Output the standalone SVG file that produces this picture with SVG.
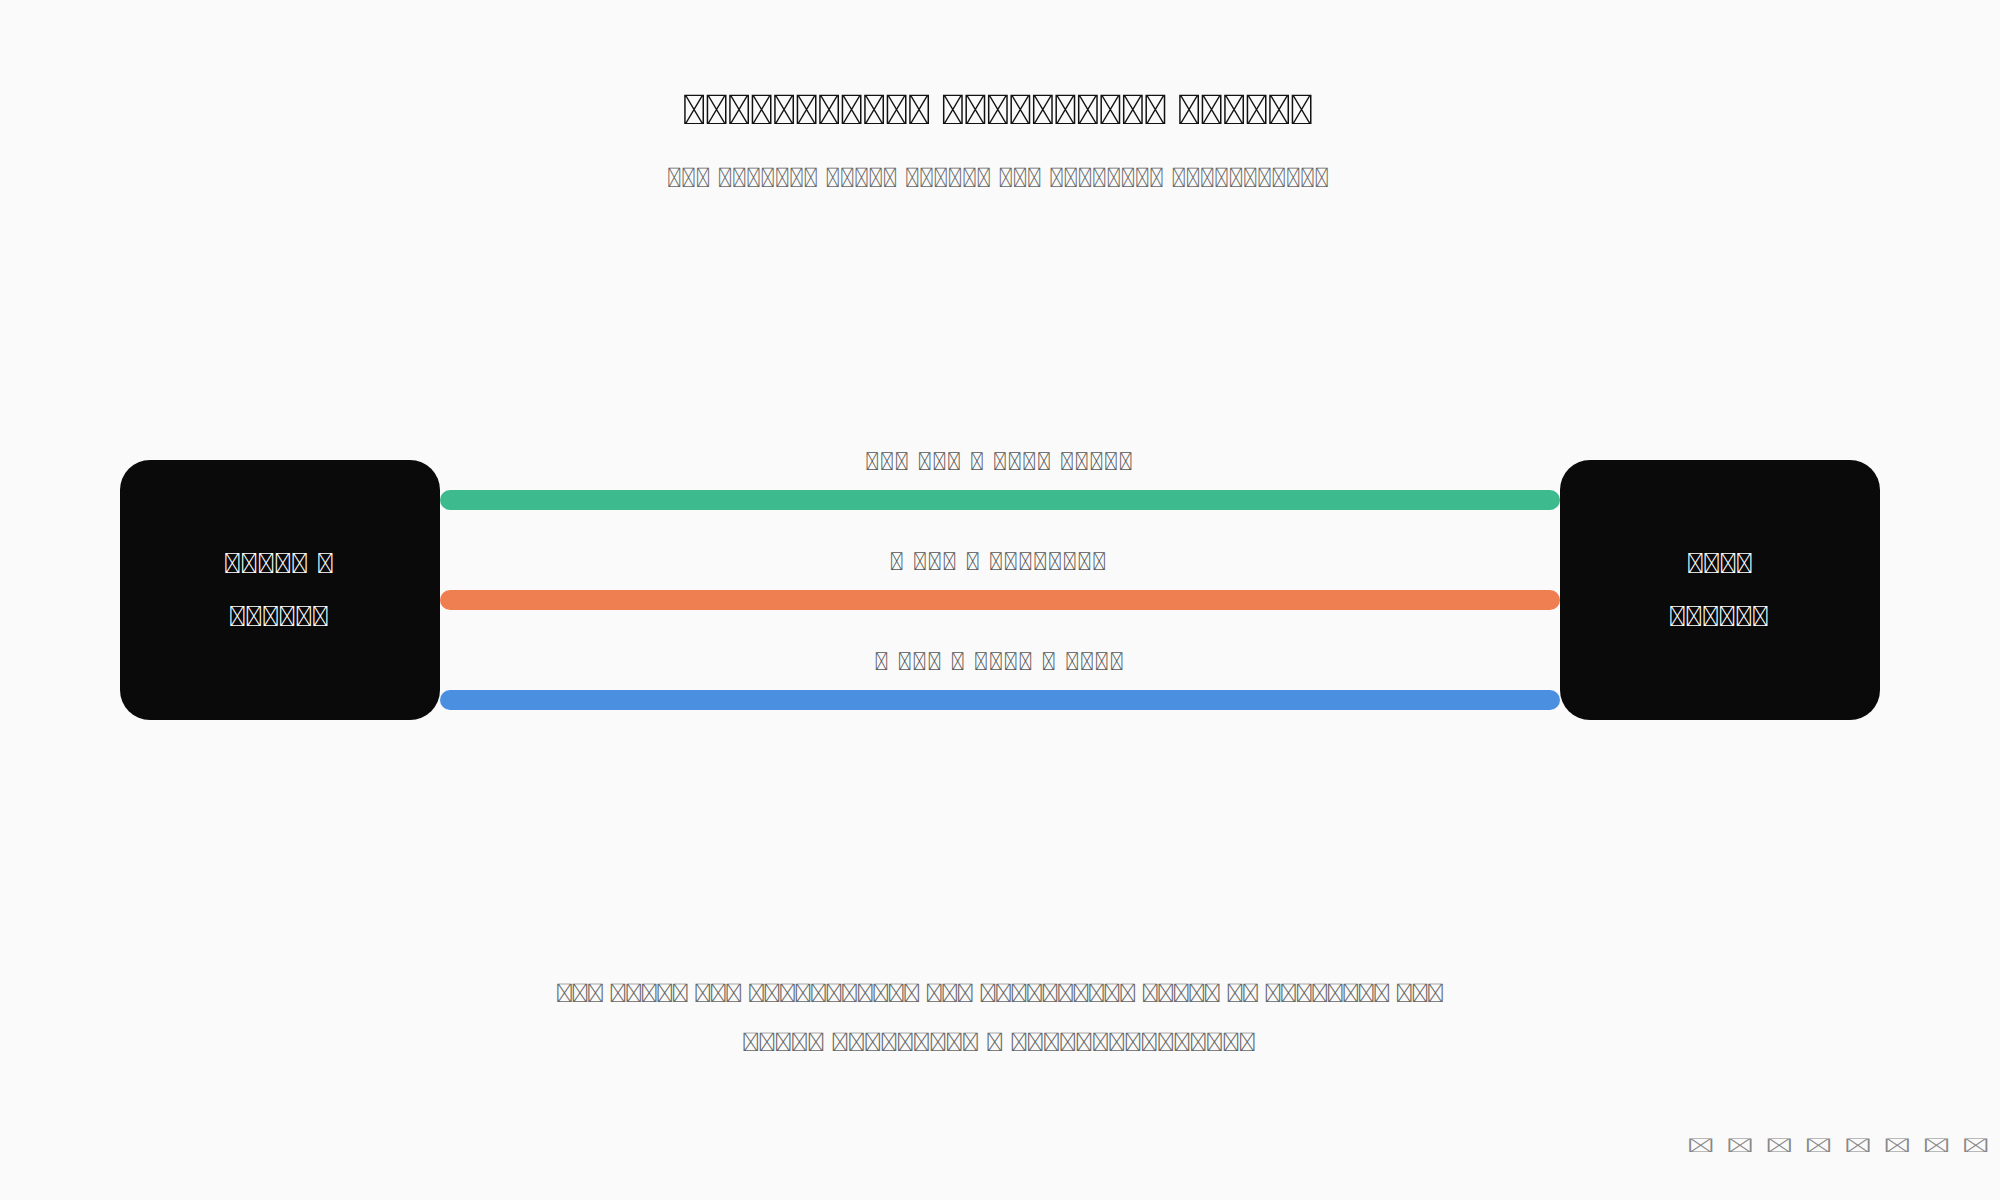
<svg xmlns="http://www.w3.org/2000/svg" width="2000" height="1200" viewBox="0 0 2000 1200">
<style>
.bg{fill:#fafafa}
text{font-family:Roboto,"Noto Sans",sans-serif}
.title{font-size:41px;font-weight:bold;fill:#111;text-anchor:middle}
.sub{font-size:27px;fill:#666;text-anchor:middle}
.lbl{font-size:25px;fill:#555;text-anchor:middle}
.node rect{fill:#0a0a0a}
.ntxt{font-size:28px;font-weight:bold;fill:#fff;text-anchor:middle}
.foot{font-size:26px;font-style:italic;fill:#666;text-anchor:middle}
.tiny{font-size:19px;fill:#888}
.edge{stroke-width:20;stroke-linecap:round;fill:none}
</style>
<rect class="bg" x="0" y="0" width="2000" height="1200"/>
<text class="title" transform="translate(998,124) scale(1.4,1)" textLength="452" lengthAdjust="spacing">&#xE000;&#xE001;&#xE002;&#xE003;&#xE004;&#xE005;&#xE006;&#xE007;&#xE008;&#xE009;&#xE00A; &#xE00B;&#xE00C;&#xE00D;&#xE00E;&#xE00F;&#xE010;&#xE011;&#xE012;&#xE013;&#xE014; &#xE015;&#xE016;&#xE017;&#xE018;&#xE019;&#xE01A;</text>
<text class="sub" transform="translate(998,187) scale(1.25,1)" textLength="530" lengthAdjust="spacing">&#xE020;&#xE021;&#xE022; &#xE023;&#xE024;&#xE025;&#xE026;&#xE027;&#xE028;&#xE029; &#xE02A;&#xE02B;&#xE02C;&#xE02D;&#xE02E; &#xE02F;&#xE030;&#xE031;&#xE032;&#xE033;&#xE034; &#xE035;&#xE036;&#xE037; &#xE038;&#xE039;&#xE03A;&#xE03B;&#xE03C;&#xE03D;&#xE03E;&#xE03F; &#xE040;&#xE041;&#xE042;&#xE043;&#xE044;&#xE045;&#xE046;&#xE047;&#xE048;&#xE049;&#xE04A;</text>
<g id="connectors">
<line class="edge" x1="450" y1="500" x2="1550" y2="500" stroke="#3dbb8f"/>
<line class="edge" x1="450" y1="600" x2="1550" y2="600" stroke="#ef7f50"/>
<line class="edge" x1="450" y1="700" x2="1550" y2="700" stroke="#4a8fe0"/>
<text class="lbl" transform="translate(999,470) scale(1.3,1)" textLength="206" lengthAdjust="spacing">&#xE050;&#xE051;&#xE052; &#xE053;&#xE054;&#xE055; &#xE056; &#xE057;&#xE058;&#xE059;&#xE05A; &#xE05B;&#xE05C;&#xE05D;&#xE05E;&#xE05F;</text>
<text class="lbl" transform="translate(998,570) scale(1.3,1)" textLength="167" lengthAdjust="spacing">&#xE060; &#xE061;&#xE062;&#xE063; &#xE064; &#xE065;&#xE066;&#xE067;&#xE068;&#xE069;&#xE06A;&#xE06B;&#xE06C;</text>
<text class="lbl" transform="translate(999,670) scale(1.3,1)" textLength="192" lengthAdjust="spacing">&#xE070; &#xE071;&#xE072;&#xE073; &#xE074; &#xE075;&#xE076;&#xE077;&#xE078; &#xE079; &#xE07A;&#xE07B;&#xE07C;&#xE07D;</text>
</g>
<g id="node-left" class="node">
<rect x="120" y="460" width="320" height="260" rx="30" ry="30"/>
<text class="ntxt" transform="translate(279,573) scale(1.45,1)" textLength="76.6" lengthAdjust="spacing">&#xE080;&#xE081;&#xE082;&#xE083;&#xE084; &#xE085;</text>
<text class="ntxt" transform="translate(279,626) scale(1.45,1)" textLength="69.7" lengthAdjust="spacing">&#xE086;&#xE087;&#xE088;&#xE089;&#xE08A;&#xE08B;</text>
</g>
<g id="node-right" class="node">
<rect x="1560" y="460" width="320" height="260" rx="30" ry="30"/>
<text class="ntxt" transform="translate(1720,573) scale(1.45,1)" textLength="46.2" lengthAdjust="spacing">&#xE090;&#xE091;&#xE092;&#xE093;</text>
<text class="ntxt" transform="translate(1719,626) scale(1.45,1)" textLength="69.7" lengthAdjust="spacing">&#xE094;&#xE095;&#xE096;&#xE097;&#xE098;&#xE099;</text>
</g>
<text class="foot" transform="translate(1000,1002) scale(1.6,1)" textLength="556" lengthAdjust="spacing">&#xE0A0;&#xE0A1;&#xE0A2; &#xE0A3;&#xE0A4;&#xE0A5;&#xE0A6;&#xE0A7; &#xE0A8;&#xE0A9;&#xE0AA; &#xE0AB;&#xE0AC;&#xE0AD;&#xE0AE;&#xE0AF;&#xE0B0;&#xE0B1;&#xE0B2;&#xE0B3;&#xE0B4;&#xE0B5; &#xE0B6;&#xE0B7;&#xE0B8; &#xE0B9;&#xE0BA;&#xE0BB;&#xE0BC;&#xE0BD;&#xE0BE;&#xE0BF;&#xE0C0;&#xE0C1;&#xE0C2; &#xE0C3;&#xE0C4;&#xE0C5;&#xE0C6;&#xE0C7; &#xE0C8;&#xE0C9; &#xE0CA;&#xE0CB;&#xE0CC;&#xE0CD;&#xE0CE;&#xE0CF;&#xE0D0;&#xE0D1; &#xE0D2;&#xE0D3;&#xE0D4;</text>
<text class="foot" transform="translate(999,1051) scale(1.6,1)" textLength="322" lengthAdjust="spacing">&#xE0E0;&#xE0E1;&#xE0E2;&#xE0E3;&#xE0E4; &#xE0E5;&#xE0E6;&#xE0E7;&#xE0E8;&#xE0E9;&#xE0EA;&#xE0EB;&#xE0EC;&#xE0ED; &#xE0EE; &#xE0EF;&#xE0F0;&#xE0F1;&#xE0F2;&#xE0F3;&#xE0F4;&#xE0F5;&#xE0F6;&#xE0F7;&#xE0F8;&#xE0F9;&#xE0FA;&#xE0FB;&#xE0FC;&#xE0FD;</text>
<text class="tiny" transform="translate(1686,1152) scale(3.5,1)" textLength="87" lengthAdjust="spacing">&#xE100;&#xE101;&#xE102;&#xE103;&#xE104;&#xE105;&#xE106;&#xE107;</text>
</svg>
